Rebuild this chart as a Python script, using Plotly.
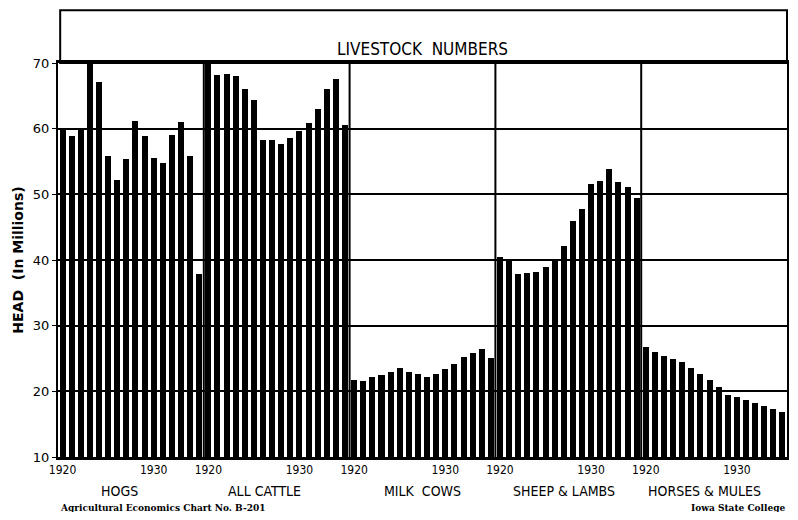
import plotly.graph_objects as go

# livestock on farms, millions of head, Jan 1 each year 1920-1935
years = list(range(1920, 1936))
hogs = [60.1, 58.9, 59.8, 70.6, 67.1, 55.9, 52.2, 55.4, 61.1, 58.9, 55.5, 54.8, 59.1, 61.0, 55.9, 37.9]
cattle = [70.4, 68.1, 68.3, 68.0, 66.1, 64.3, 58.3, 58.3, 57.7, 58.6, 59.6, 60.8, 63.0, 66.1, 67.5, 60.6]
milk_cows = [21.8, 21.5, 22.2, 22.5, 23.0, 23.5, 22.9, 22.7, 22.2, 22.6, 23.4, 24.2, 25.3, 25.9, 26.5, 25.1]
sheep = [40.5, 39.8, 37.8, 38.0, 38.2, 39.0, 40.2, 42.1, 45.9, 47.8, 51.5, 52.0, 53.8, 51.9, 51.1, 49.5]
horses = [26.8, 26.0, 25.4, 25.0, 24.5, 23.5, 22.6, 21.8, 20.6, 19.5, 19.2, 18.7, 18.2, 17.7, 17.3, 16.8]

groups = ["HOGS", "ALL CATTLE", "MILK  COWS", "SHEEP & LAMBS", "HORSES & MULES"]
series = [hogs, cattle, milk_cows, sheep, horses]
label_years = [1920, 1930]

n = len(years)
fig = go.Figure()

xs, ys = [], []
for p, vals in enumerate(series):
    for i, v in enumerate(vals):
        xs.append(p * n + i)
        ys.append(v)

fig.add_trace(go.Bar(x=xs, y=ys, width=0.66, marker=dict(color="black", line=dict(width=0)),
                     showlegend=False))

tickvals, ticktext = [], []
for p in range(len(groups)):
    for yr in label_years:
        tickvals.append(p * n + years.index(yr))
        ticktext.append(str(yr))

# separators between groups
for p in range(1, len(groups)):
    fig.add_shape(type="line", xref="x", yref="paper", x0=p * n - 0.5, x1=p * n - 0.5,
                  y0=0, y1=1, line=dict(color="black", width=2), layer="above")

# category labels
offsets = [-1.3, -1.3, 0.0, -0.5, -1.0]
for p, g in enumerate(groups):
    fig.add_annotation(x=p * n + 7.5 + offsets[p], y=-0.086, xref="x", yref="paper",
                       text=g, showarrow=False, yanchor="middle",
                       font=dict(family="DejaVu Sans Condensed, DejaVu Sans", size=14, color="black"))

# title box
fig.add_shape(type="rect", xref="paper", yref="paper", x0=0.003, x1=1, y0=1, y1=1.134,
              line=dict(color="black", width=2))
fig.add_annotation(x=0.5, y=1.067, xref="paper", yref="paper", text="LIVESTOCK  NUMBERS",
                   showarrow=False, font=dict(family="DejaVu Sans Condensed, DejaVu Sans", size=17, color="black"))

# footer
fig.add_annotation(x=0.0, y=-0.13, xref="paper", yref="paper", xanchor="left", yanchor="middle",
                   text="<b>Agricultural Economics Chart No. B-201</b>", showarrow=False,
                   font=dict(family="DejaVu Serif", size=9, color="black"))
fig.add_annotation(x=1.0, y=-0.13, xref="paper", yref="paper", xanchor="right", yanchor="middle",
                   text="<b>Iowa State College</b>", showarrow=False,
                   font=dict(family="DejaVu Serif", size=9, color="black"))

# page body keeps an 8px margin, so size the figure to fit the window without scrollbars
fig.update_layout(
    width=782, height=504,
    margin=dict(l=50, r=1, t=55, b=55),
    paper_bgcolor="white", plot_bgcolor="white",
    bargap=0,
    xaxis=dict(range=[-0.5, len(groups) * n - 0.5], tickvals=tickvals, ticktext=ticktext,
               showgrid=False, zeroline=False, showline=True, linecolor="black", linewidth=3,
               mirror=True, ticks="", ticklen=0,
               tickfont=dict(family="DejaVu Sans Condensed, DejaVu Sans", size=12, color="black")),
    yaxis=dict(range=[10, 70], tickvals=[10, 20, 30, 40, 50, 60, 70], showgrid=True,
               gridcolor="black", gridwidth=1.5, zeroline=False, showline=True, linecolor="black",
               linewidth=2, mirror=True, ticks="outside", ticklen=4, tickcolor="black",
               tickprefix="<b>", ticksuffix="</b>",
               tickfont=dict(family="DejaVu Sans", size=13, color="black"),
               title=dict(text="<b>HEAD  (In Millions)</b>", standoff=6,
                          font=dict(family="DejaVu Sans", size=14, color="black"))),
)

fig.write_html("out.html")
